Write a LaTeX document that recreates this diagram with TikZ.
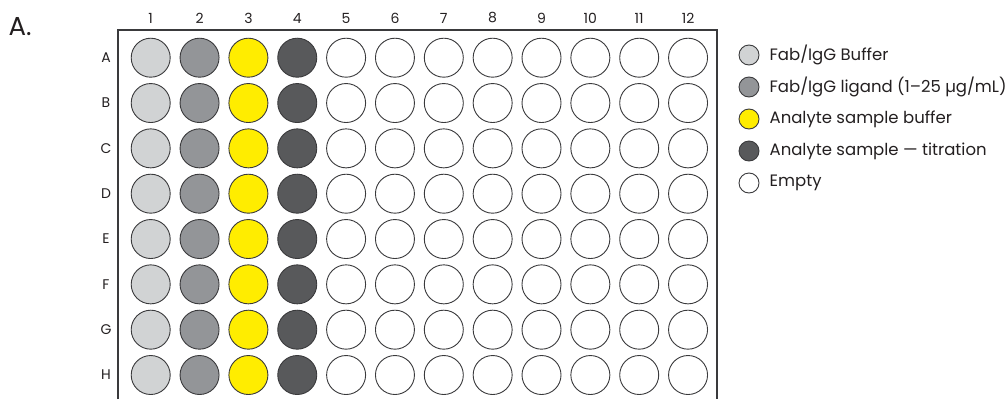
\documentclass[tikz,border=0pt]{standalone}
\usepackage{fontspec}
\setmainfont{Poppins}
\usetikzlibrary{positioning}
\definecolor{bufgray}{HTML}{D1D3D4}
\definecolor{liggray}{HTML}{939598}
\definecolor{anayellow}{HTML}{FFED00}
\definecolor{titgray}{HTML}{58595B}
\definecolor{rimgray}{HTML}{3A3A3C}
\definecolor{inkgray}{HTML}{231F20}
\begin{document}
\begin{tikzpicture}[x=1pt, y=-1pt, every node/.style={font=\fontsize{14}{16}\selectfont, text=inkgray},
  well/.style={circle, draw=rimgray, line width=0.9pt, minimum size=39pt, inner sep=0pt},
  keydot/.style={circle, draw=rimgray, line width=0.9pt, minimum size=20pt, inner sep=0pt},
  keytext/.style={right=10pt of #1, anchor=west, inner sep=0pt, font=\fontsize{16.5}{18}\selectfont}]
  \useasboundingbox (0,0) rectangle (1006,399);
  \node[font=\fontsize{26}{28}\selectfont] (panel) at (20,27) {A.};
  \draw[rimgray, line width=1.1pt] (118,399) |- (717,30) -- (717,399);
  \foreach \c/\f in {1/bufgray,2/liggray,3/anayellow,4/titgray,5/white,6/white,7/white,8/white,9/white,10/white,11/white,12/white} {
    \node (col\c) at ({150.7+(\c-1)*48.85},18) {\c};
    \foreach \r [count=\i] in {A,B,C,D,E,F,G,H}
      \node[well, fill=\f] (\r\c) at ({150.7+(\c-1)*48.85},{57.7+(\i-1)*45.33}) {};
  }
  \foreach \r [count=\i] in {A,B,C,D,E,F,G,H}
    \node (row\r) at (106,{57.7+(\i-1)*45.33}) {\r};
  \node[keydot, fill=bufgray] (key1) at (749,55) {};
  \node[keydot, fill=liggray] (key2) at (749,87) {};
  \node[keydot, fill=anayellow] (key3) at (749,119) {};
  \node[keydot, fill=titgray] (key4) at (749,151) {};
  \node[keydot, fill=white] (key5) at (749,183) {};
  \node[keytext=key1] (lab1) {Fab/IgG Buffer};
  \node[keytext=key2] (lab2) {Fab/IgG ligand (1–25 µg/mL)};
  \node[keytext=key3] (lab3) {Analyte sample buffer};
  \node[keytext=key4] (lab4) {Analyte sample — titration};
  \node[keytext=key5] (lab5) {Empty};
\end{tikzpicture}
\end{document}
